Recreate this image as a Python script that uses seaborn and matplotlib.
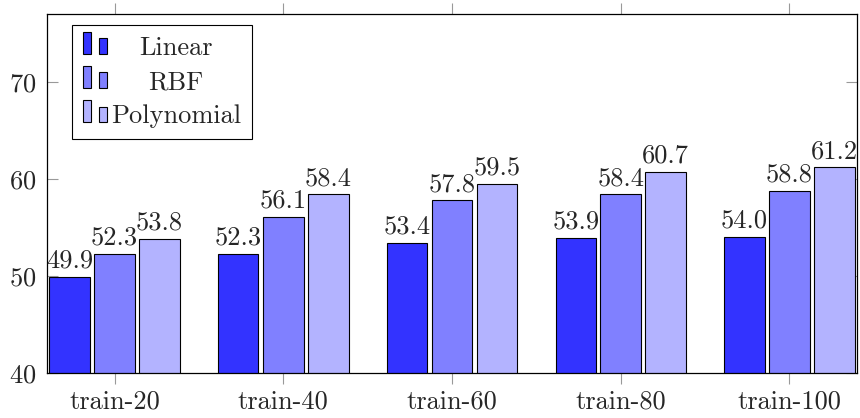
import numpy as np
import pandas as pd
import matplotlib
matplotlib.use('Agg')
import matplotlib.pyplot as plt
import seaborn as sns
from matplotlib.legend_handler import HandlerBase
from matplotlib.patches import Rectangle, Patch

# data
settings = ['train-20', 'train-40', 'train-60', 'train-80', 'train-100']
kernels = ['Linear', 'RBF', 'Polynomial']
linear = [49.9, 52.3, 53.4, 53.9, 54.0]
rbf = [52.3, 56.1, 57.8, 58.4, 58.8]
poly = [53.8, 58.4, 59.5, 60.7, 61.2]
colors = ['#3333ff', '#8080ff', '#b3b3ff']

df = pd.DataFrame({
    'setting': settings * 3,
    'kernel': [k for k in kernels for _ in settings],
    'acc': linear + rbf + poly,
})

sns.set_style('ticks')
plt.rcParams['font.family'] = ['cmr10', 'DejaVu Serif']
plt.rcParams['axes.formatter.use_mathtext'] = True
fs = 19

fig = plt.figure(figsize=(8.6, 4.18), dpi=100)
ax = fig.add_axes([47 / 860, 45 / 418, 810 / 860, 359 / 418])

sns.barplot(data=df, x='setting', y='acc', hue='kernel', order=settings,
            hue_order=kernels, palette=colors, width=0.8, gap=0.1,
            edgecolor='black', linewidth=0.8, saturation=1, ax=ax)

for c in ax.containers:
    ax.bar_label(c, fmt='%.1f', padding=3, fontsize=fs)

ax.set_ylim(40, 77)
ax.set_xlim(-0.4, 4.4)
ax.set_yticks([40, 50, 60, 70])
ax.set_xlabel('')
ax.set_ylabel('')
ax.set_axisbelow(True)

ax.tick_params(axis='x', direction='out', top=True, length=8, width=0.8,
               color='#999999', labelsize=fs, pad=4)
ax.tick_params(axis='y', direction='in', right=True, length=8, width=0.8,
               color='#999999', labelsize=fs, pad=8)
for s in ax.spines.values():
    s.set_color('black')
    s.set_linewidth(0.9)


class HandlerTwoBars(HandlerBase):
    def create_artists(self, legend, orig_handle, xdescent, ydescent,
                       width, height, fontsize, trans):
        fc = orig_handle.get_facecolor()
        bw = width * 0.34
        y0 = -ydescent + 0.05 * height
        r1 = Rectangle((-xdescent, y0), bw, height * 1.2, facecolor=fc,
                       edgecolor='black', linewidth=0.8, transform=trans)
        r2 = Rectangle((-xdescent + width - bw, y0), bw, height * 0.85,
                       facecolor=fc, edgecolor='black', linewidth=0.8,
                       transform=trans)
        return [r1, r2]


ax.get_legend().remove()
handles = [Patch(facecolor=c) for c in colors]
leg = ax.legend(handles, kernels, loc='upper left',
                bbox_to_anchor=(25 / 810, 1 - 11 / 359), borderaxespad=0,
                fontsize=fs, frameon=True, fancybox=False, framealpha=1,
                edgecolor='black', handlelength=0.9, handleheight=0.7,
                handletextpad=0.15, labelspacing=0.4, borderpad=0.42,
                handler_map={Patch: HandlerTwoBars()})
leg.get_frame().set_linewidth(0.8)

# center the legend labels like the reference
fig.canvas.draw()
renderer = fig.canvas.get_renderer()
texts = leg.get_texts()
widths = [t.get_window_extent(renderer).width for t in texts]
wmax = max(widths)
for t, w in zip(texts, widths):
    t.set_position(((wmax - w) / 2, 0))

fig.savefig('out.png', dpi=100)
